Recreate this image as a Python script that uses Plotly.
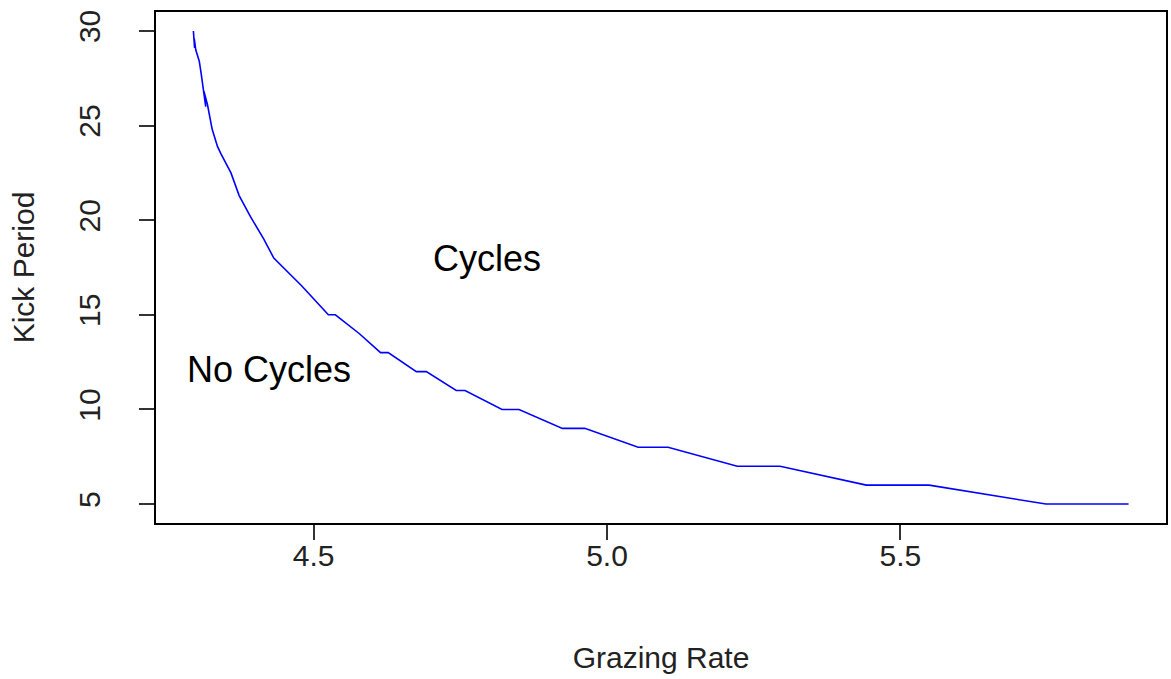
import plotly.graph_objects as go

# Boundary between cycling and non-cycling regimes
grazing_rate = [
    4.295, 4.297, 4.2965, 4.299, 4.305, 4.308, 4.311, 4.316, 4.313, 4.319,
    4.323, 4.327, 4.336, 4.342, 4.359, 4.373, 4.392, 4.415, 4.432, 4.479,
    4.525, 4.537, 4.578, 4.614, 4.627, 4.675, 4.692, 4.743, 4.758, 4.821,
    4.850, 4.924, 4.962, 5.053, 5.104, 5.222, 5.295, 5.442, 5.549, 5.748,
    5.889,
]
kick_period = [
    30.0, 29.1, 29.6, 29.0, 28.4, 27.8, 27.2, 26.0, 26.8, 26.1,
    25.5, 24.8, 23.9, 23.5, 22.5, 21.3, 20.2, 19.0, 18.0, 16.55,
    15.0, 15.0, 14.0, 13.0, 13.0, 12.0, 12.0, 11.0, 11.0, 10.0,
    10.0, 9.0, 9.0, 8.0, 8.0, 7.0, 7.0, 6.0, 6.0, 5.0,
    5.0,
]

x_ticks = [4.5, 5.0, 5.5]
x_tick_text = ["4.5", "5.0", "5.5"]
y_ticks = [5, 10, 15, 20, 25, 30]
y_tick_text = ["5", "10", "15", "20", "25", "30"]

region_labels = ["Cycles", "No Cycles"]
region_x = [4.795, 4.424]
region_y = [18.0, 12.1]


def padded(values, frac=0.04):
    lo, hi = min(values), max(values)
    pad = (hi - lo) * frac
    return [lo - pad, hi + pad]


FONT = "Liberation Sans, Arial, sans-serif"

fig = go.Figure()
fig.add_trace(go.Scatter(
    x=grazing_rate, y=kick_period, mode="lines",
    line=dict(color="#0000FF", width=1.6),
    showlegend=False, hoverinfo="skip",
))

for txt, gx, ky in zip(region_labels, region_x, region_y):
    fig.add_annotation(
        x=gx, y=ky, text=txt, showarrow=False,
        xanchor="center", yanchor="middle",
        font=dict(family=FONT, size=36, color="black"),
    )

axis_common = dict(
    showgrid=False, zeroline=False,
    showline=True, linecolor="black", linewidth=1.5, mirror=True,
    ticks="outside", ticklen=15, tickwidth=1.5, tickcolor="#333333",
    tickfont=dict(family=FONT, size=30, color="#222222"),
)

fig.update_xaxes(
    range=padded(grazing_rate), tickvals=x_ticks, ticktext=x_tick_text,
    ticklabelstandoff=-10,
    title=dict(text="Grazing Rate", standoff=76,
               font=dict(family=FONT, size=30, color="#222222")),
    **axis_common,
)
fig.update_yaxes(
    range=padded(kick_period), tickvals=y_ticks, ticktext=y_tick_text,
    tickangle=-90, ticklabelstandoff=27,
    title=dict(text="Kick Period", standoff=30,
               font=dict(family=FONT, size=30, color="#222222")),
    **axis_common,
)

fig.update_layout(
    width=1171, height=679,
    margin=dict(l=156, r=3, t=12, b=156),
    paper_bgcolor="white", plot_bgcolor="white",
)

fig.write_html("out.html")
